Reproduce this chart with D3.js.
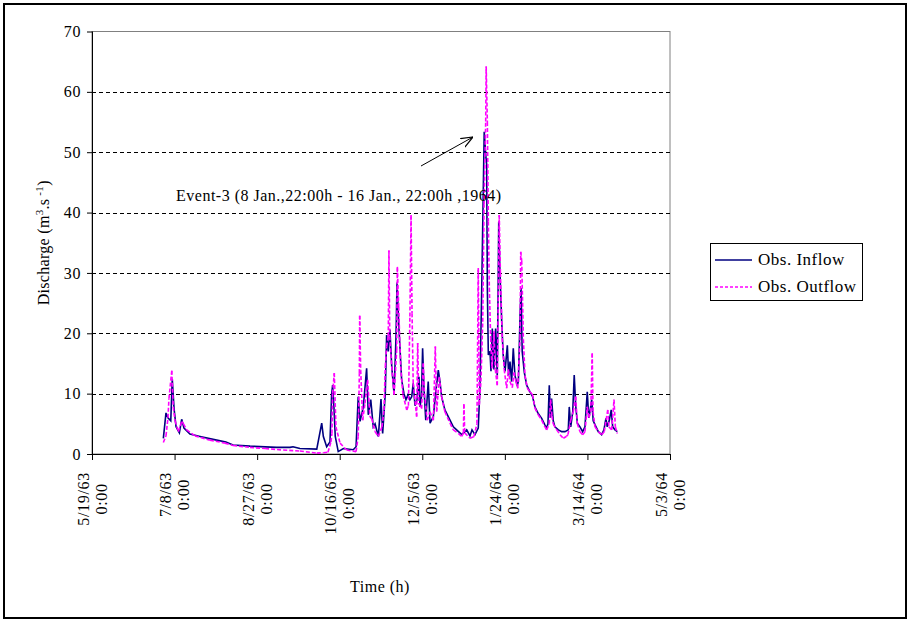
<!DOCTYPE html>
<html>
<head>
<meta charset="utf-8">
<script src="https://cdn.jsdelivr.net/npm/d3@7"></script>
<style>
  html, body { margin: 0; padding: 0; background: #fff; }
  svg text { font-family: "Times New Roman", "Liberation Serif", serif; fill: #000; }
</style>
</head>
<body>
<svg id="chart" width="911" height="623"></svg>
<script>
// ---- DATA ----
// time origin of the axis, days counted from here
const startDate = new Date(1963, 4, 19);
const endDate = new Date(1964, 4, 3);
const tickStepDays = 50;
const yTicks = [0, 10, 20, 30, 40, 50, 60, 70];
const seriesNames = ["Obs. Inflow", "Obs. Outflow"];

// Observed inflow: days since 5/19/63 and discharge (m3/s)
const inflowDay = [43.2,44.8,46.0,47.7,48.6,49.7,50.9,52.9,54.3,55.7,59.3,65.4,75.5,81.1,85.4,95.7,111.8,119.9,121.7,125.9,
  136.1,139.1,140.1,142.1,144.1,145.1,145.7,146.5,147.3,149.1,152.2,158.2,159.9,161.2,162.3,164.3,166.3,167.3,168.8,170.3,
  171.4,173.4,175.0,176.0,177.6,178.4,179.4,180.4,181.5,182.9,184.1,184.7,185.7,187.5,188.9,190.1,191.3,192.5,193.6,194.5,
  195.6,196.8,198.0,198.6,199.5,200.2,201.0,202.1,203.6,204.7,206.7,208.3,209.7,210.7,211.7,213.7,216.8,218.8,220.8,223.9,
  226.9,228.9,230.1,231.9,233.9,234.9,236.0,236.9,237.5,238.4,239.0,239.4,240.0,241.0,241.6,242.4,243.4,244.4,245.4,246.3,
  247.0,248.1,249.0,250.1,251.5,252.3,253.1,254.1,255.1,256.1,257.5,258.2,259.2,259.8,260.5,261.8,263.2,265.2,266.8,268.2,
  270.2,272.3,274.3,275.3,276.1,276.9,277.6,278.3,279.3,280.3,282.4,284.4,286.4,288.4,289.0,289.9,291.1,292.0,292.9,293.9,
  295.5,297.1,298.5,299.9,300.8,301.5,302.6,303.5,305.2,306.6,308.6,310.0,311.2,312.0,313.2,314.4,315.3,316.7,318.1];
const inflowQ = [2.6,6.8,6.0,5.5,12.4,7.5,4.5,3.5,5.75,4.3,3.3,2.9,2.3,2.0,1.5,1.3,1.1,1.1,1.2,0.9,
  0.8,5.1,2.9,1.2,2.0,9.8,11.4,7.8,2.9,0.4,0.9,0.7,1.2,9.5,5.4,7.8,14.2,6.5,9.0,4.5,
  5.0,2.9,9.1,3.4,10.0,19.7,17.0,20.6,14.5,10.0,19.5,28.4,21.7,12.3,10.0,9.0,9.8,9.0,9.5,11.7,
  8.0,9.0,12.8,7.8,9.5,17.5,11.0,5.6,12.0,5.1,6.2,10.6,13.9,12.0,9.5,7.3,5.6,4.5,4.0,3.2,
  4.0,3.0,4.0,3.2,4.3,10.9,27.5,43.0,53.4,49.6,47.9,27.5,16.4,17.0,13.7,20.8,14.0,20.8,13.0,38.5,
  30.2,21.9,16.4,13.7,18.0,13.0,15.3,12.0,17.5,13.0,11.4,12.0,23.0,27.5,17.0,13.5,11.4,10.3,9.5,7.8,
  6.7,5.9,4.8,4.3,5.0,11.4,6.0,9.2,5.5,4.5,4.0,3.7,3.7,4.0,7.8,4.5,7.0,13.1,8.0,5.1,
  4.5,3.7,4.5,10.3,6.0,7.0,9.0,5.5,4.5,3.7,3.2,4.0,5.9,4.5,5.5,7.3,4.5,4.0,3.7];

// Observed outflow: days since 5/19/63 and discharge (m3/s)
const outflowDay = [43.2,44.8,46.0,46.6,48.3,49.2,50.3,52.3,54.3,55.4,57.3,62.4,71.4,80.5,85.4,95.7,104.8,115.8,125.9,136.1,
  140.1,142.9,144.7,145.3,145.7,146.7,147.7,150.2,154.2,159.9,161.2,161.9,162.1,162.7,163.9,165.3,166.9,168.3,169.5,171.4,
  173.4,175.6,176.8,177.6,178.4,179.4,179.8,180.3,181.5,182.9,184.5,184.9,185.7,186.9,188.3,190.6,191.6,192.5,193.2,193.8,
  194.5,196.6,197.2,197.9,199.6,200.6,201.3,203.0,204.7,206.7,207.9,208.7,210.3,211.7,213.7,216.8,218.8,221.8,223.9,224.9,
  225.2,225.7,228.9,230.7,231.3,233.1,233.9,234.5,235.5,236.6,237.4,238.4,238.7,239.4,240.0,240.6,241.4,242.2,243.4,244.2,
  245.4,246.6,247.3,248.4,249.6,251.1,252.1,253.1,254.5,255.5,256.7,257.8,259.2,259.6,260.2,261.2,262.2,263.6,265.2,266.8,
  268.2,270.2,272.3,274.3,275.3,276.9,277.7,278.5,279.3,281.4,283.4,285.4,287.2,288.2,289.9,291.4,292.9,293.9,295.5,297.1,
  298.5,299.9,300.9,302.0,302.9,303.4,304.6,306.6,308.6,310.2,312.3,313.0,314.7,316.1,316.9,318.1];
const outflowQ = [1.9,3.0,6.0,9.2,13.8,7.8,5.5,3.7,5.4,5.0,4.0,3.0,2.3,1.8,1.4,1.1,0.9,0.66,0.5,0.15,
  0.2,0.3,2.0,3.4,10.0,13.4,4.5,1.8,0.66,0.4,2.9,13.4,22.9,13.9,5.6,8.4,12.3,6.2,5.8,3.7,
  2.9,4.5,7.3,14.5,17.8,19.5,33.7,19.5,14.5,9.8,17.2,31.0,24.4,14.5,9.8,7.3,8.0,22.8,39.6,23.3,
  11.7,6.2,18.4,8.3,7.5,15.0,10.0,5.6,7.0,5.6,17.8,7.0,12.8,9.5,7.0,5.1,4.0,3.4,2.9,3.5,
  8.3,3.5,2.6,2.8,2.9,5.0,30.8,8.1,12.0,21.9,41.3,55.1,64.2,55.0,38.5,27.5,19.2,14.2,20.3,14.0,
  11.4,39.6,30.0,19.2,14.0,10.9,14.0,12.0,11.0,13.5,12.0,10.9,19.2,33.5,32.0,19.0,13.0,10.9,10.3,9.8,
  7.6,6.5,5.6,4.5,4.0,5.0,9.0,6.3,5.0,4.0,3.2,2.6,2.9,3.2,5.6,7.0,9.5,5.0,3.7,3.2,
  3.7,7.8,6.0,7.0,16.7,7.0,4.5,3.7,3.2,3.7,7.3,4.5,4.0,9.0,4.5,3.4];

const annotationText = "Event-3 (8 Jan.,22:00h - 16 Jan., 22:00h ,1964)";

// ---- CHART ----
const svg = d3.select("#chart");
const pL = 92, pR = 670, pT = 31.5, pB = 454;
const dayMs = 864e5;
const toDate = d => new Date(startDate.getTime() + d * dayMs);

const x = d3.scaleTime().domain([startDate, endDate]).range([pL, pR]);
const y = d3.scaleLinear().domain([0, 70]).range([pB, pT]);

// outer border
svg.append("rect").attr("x", 4).attr("y", 4).attr("width", 902).attr("height", 614)
  .attr("fill", "none").attr("stroke", "#000").attr("stroke-width", 2);

// plot area border (gray)
svg.append("rect").attr("x", pL).attr("y", pT).attr("width", pR - pL).attr("height", pB - pT)
  .attr("fill", "none").attr("stroke", "#808080").attr("stroke-width", 1);

// gridlines
svg.append("g").selectAll("line").data(yTicks.filter(v => v > 0 && v < 70)).join("line")
  .attr("x1", pL).attr("x2", pR)
  .attr("y1", d => Math.round(y(d)) + 0.5).attr("y2", d => Math.round(y(d)) + 0.5)
  .attr("stroke", "#000").attr("stroke-width", 1).attr("stroke-dasharray", "4,3");

// y axis
const yAxis = svg.append("g").attr("transform", `translate(${pL},0)`)
  .call(d3.axisLeft(y).tickValues(yTicks).tickSize(5).tickPadding(6).tickFormat(d3.format("d")));
yAxis.select(".domain").attr("stroke", "#000").attr("d", `M0.5,${pT}V${pB}`);
yAxis.selectAll(".tick line").attr("stroke", "#000");
yAxis.selectAll(".tick text").style("font-family", '"Times New Roman","Liberation Serif",serif')
  .style("font-size", "16px").style("letter-spacing", "0.6px");

// x axis
const xTicks = d3.range(0, 351, tickStepDays).map(d => d3.timeDay.offset(startDate, d));
const xAxis = svg.append("g").attr("transform", `translate(0,${pB})`)
  .call(d3.axisBottom(x).tickValues(xTicks).tickSize(6).tickFormat(""));
xAxis.select(".domain").attr("stroke", "#000").attr("d", `M${pL},0.5H${pR}`);
xAxis.selectAll(".tick line").attr("stroke", "#000");

const fmt = d3.timeFormat("%-m/%-d/%y");
const lab = svg.append("g");
xTicks.forEach(t => {
  const g = lab.append("g").attr("transform", `translate(${x(t)},472) rotate(-90)`);
  const mk = (s, yy) => g.append("text").text(s).attr("font-size", 16).attr("letter-spacing", 0.7)
    .attr("text-anchor", "middle").attr("dominant-baseline", "central").attr("y", yy);
  const t1 = mk(fmt(t), -9);
  const t2 = mk("0:00", 9);
  const w = Math.max(t1.node().getComputedTextLength(), t2.node().getComputedTextLength());
  t1.attr("x", -w / 2); t2.attr("x", -w / 2);
});

// axis titles
const yt = svg.append("text").attr("transform", `translate(49,${(pT + pB) / 2}) rotate(-90)`)
  .attr("text-anchor", "middle").attr("font-size", 16).attr("letter-spacing", 0.3);
yt.append("tspan").text("Discharge (m");
yt.append("tspan").text("3").attr("font-size", 11).attr("dy", -6);
yt.append("tspan").text(".s").attr("dy", 6);
yt.append("tspan").text(" -1").attr("font-size", 11).attr("dy", -6);
yt.append("tspan").text(")").attr("dy", 6);

svg.append("text").attr("x", 380).attr("y", 592).attr("text-anchor", "middle")
  .attr("font-size", 16).attr("letter-spacing", 0.5).text("Time (h)");

// series
const n1 = Math.min(inflowDay.length, inflowQ.length);
const n2 = Math.min(outflowDay.length, outflowQ.length);
const inflow = inflowDay.slice(0, n1).map((d, i) => [toDate(d), inflowQ[i]]);
const outflow = outflowDay.slice(0, n2).map((d, i) => [toDate(d), outflowQ[i]]);
const line = d3.line().x(d => x(d[0])).y(d => y(d[1]));

svg.append("path").datum(inflow).attr("d", line)
  .attr("fill", "none").attr("stroke", "#000080").attr("stroke-width", 1.6).attr("stroke-linejoin", "miter");

// dashed outflow: pattern restarts on each segment (as the original renderer does)
const segs = d3.pairs(outflow);
svg.append("g").selectAll("path").data(segs).join("path")
  .attr("d", d => line(d))
  .attr("fill", "none").attr("stroke", "#FF00FF").attr("stroke-width", 1.6)
  .attr("stroke-dasharray", "4,2");

// annotation
svg.append("text").attr("x", 176).attr("y", 201).attr("font-size", 16).attr("letter-spacing", 0.5)
  .text(annotationText);
svg.append("defs").append("marker").attr("id", "arr").attr("viewBox", "0 0 10 10")
  .attr("refX", 10).attr("refY", 5).attr("markerWidth", 12).attr("markerHeight", 12)
  .attr("markerUnits", "userSpaceOnUse").attr("orient", "auto")
  .append("path").attr("d", "M0,1 L10,5 L0,9").attr("fill", "none").attr("stroke", "#000").attr("stroke-width", 1);
svg.append("line").attr("x1", 421).attr("y1", 166).attr("x2", 473).attr("y2", 137)
  .attr("stroke", "#000").attr("stroke-width", 1).attr("marker-end", "url(#arr)");

// legend
const lg = svg.append("g");
lg.append("rect").attr("x", 710.5).attr("y", 243.5).attr("width", 152).attr("height", 57)
  .attr("fill", "#fff").attr("stroke", "#000").attr("stroke-width", 1);
lg.append("line").attr("x1", 715).attr("x2", 752).attr("y1", 260).attr("y2", 260)
  .attr("stroke", "#000080").attr("stroke-width", 1.5);
lg.append("line").attr("x1", 715).attr("x2", 752).attr("y1", 287).attr("y2", 287)
  .attr("stroke", "#FF00FF").attr("stroke-width", 1.5).attr("stroke-dasharray", "3,2");
lg.append("text").attr("x", 758).attr("y", 265).attr("font-size", 17).attr("letter-spacing", 0.5).text(seriesNames[0]);
lg.append("text").attr("x", 758).attr("y", 292).attr("font-size", 17).attr("letter-spacing", 0.5).text(seriesNames[1]);
</script>
</body>
</html>
